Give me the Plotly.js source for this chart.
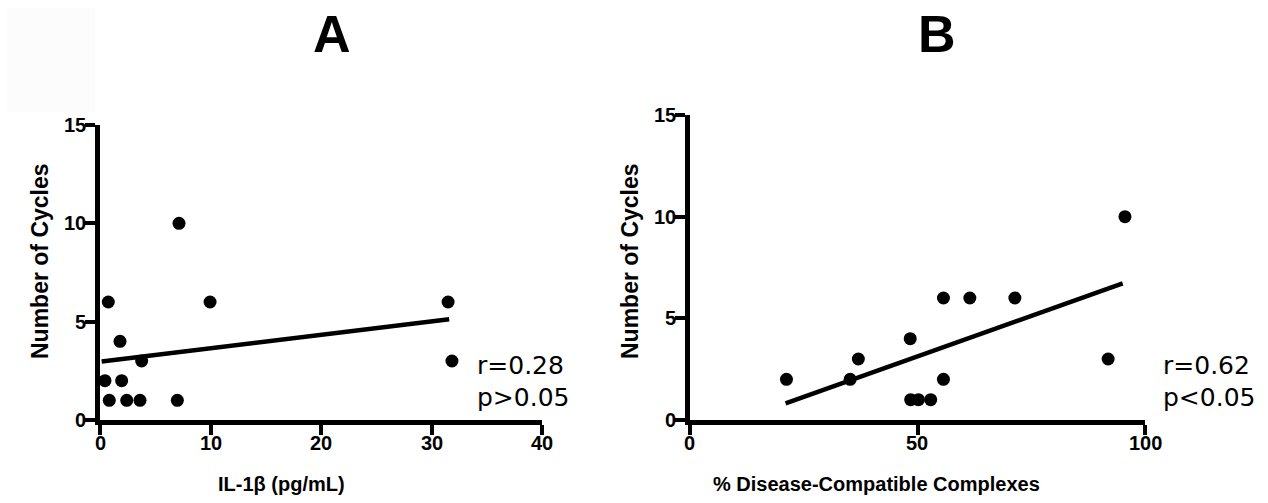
<!DOCTYPE html>
<html>
<head>
<meta charset="utf-8">
<script src="https://cdn.plot.ly/plotly-3.0.1.min.js"></script>
<style>html,body{margin:0;padding:0;background:#fff;}#chart{width:1268px;height:503px;}</style>
</head>
<body>
<div id="chart"></div>
<script>
// Panel A: IL-1beta vs number of cycles
const il1bX = [7.15, 0.75, 9.96, 31.5, 1.81, 3.77, 31.85, 0.45, 1.96, 0.84, 2.42, 3.62, 7.0];
const il1bY = [10, 6, 6, 6, 4, 3, 3, 2, 2, 1, 1, 1, 1];
const fitAX = [0.15, 31.6];
const fitAY = [2.97, 5.12];
// Panel B: % disease-compatible complexes vs number of cycles
const dccX = [21.2, 35.2, 37.0, 48.4, 55.7, 61.5, 71.4, 95.6, 91.9, 55.7, 48.5, 50.2, 52.9];
const dccY = [2, 2, 3, 4, 6, 6, 6, 10, 3, 2, 1, 1, 1];
const fitBX = [21.0, 95.1];
const fitBY = [0.82, 6.72];
const ticksA = [0, 10, 20, 30, 40];
const ticksB = [0, 50, 100];
const ticksY = [0, 5, 10, 15];
const panelTitles = ["A", "B"];
const xTitles = ["IL-1β (pg/mL)", "% Disease-Compatible Complexes"];
const yTitle = "Number of Cycles";
const statsA = ["r=0.28", "p>0.05"];
const statsB = ["r=0.62", "p<0.05"];

const tickFont = {family: "Liberation Sans, Arial", size: 20, color: "#000", weight: 700};
const xTitleFont = {family: "Liberation Sans, Arial", size: 20, color: "#000", weight: 700};
const yTitleFont = {family: "Liberation Sans, Arial", size: 23, color: "#000", weight: 700};
const statFont = {family: "DejaVu Sans, Liberation Sans", size: 25, color: "#000"};

const traces = [
  {x: fitAX, y: fitAY, xaxis: "x", yaxis: "y", mode: "lines", type: "scatter",
   line: {color: "#000", width: 4.5}, cliponaxis: false},
  {x: il1bX, y: il1bY, xaxis: "x", yaxis: "y", mode: "markers", type: "scatter",
   marker: {color: "#000", size: 13}, cliponaxis: false},
  {x: fitBX, y: fitBY, xaxis: "x2", yaxis: "y2", mode: "lines", type: "scatter",
   line: {color: "#000", width: 4.5}, cliponaxis: false},
  {x: dccX, y: dccY, xaxis: "x2", yaxis: "y2", mode: "markers", type: "scatter",
   marker: {color: "#000", size: 13}, cliponaxis: false}
];

function axis(extra) {
  return Object.assign({
    showline: true, linewidth: 5, linecolor: "#000", mirror: false,
    showgrid: false, zeroline: false, ticks: "outside", ticklen: 10, tickwidth: 4,
    tickcolor: "#000", showticklabels: false, fixedrange: true
  }, extra);
}

const W = 1268, H = 503;
const px = v => v / W, py = v => 1 - v / H;

const annotations = [
  {text: panelTitles[0], xref: "paper", yref: "paper", x: px(332), y: py(34), showarrow: false,
   font: {family: "Liberation Sans, Arial", size: 52, color: "#000", weight: 700}, xanchor: "center", yanchor: "middle"},
  {text: panelTitles[1], xref: "paper", yref: "paper", x: px(937), y: py(34), showarrow: false,
   font: {family: "Liberation Sans, Arial", size: 52, color: "#000", weight: 700}, xanchor: "center", yanchor: "middle"},
  {text: xTitles[0], xref: "paper", yref: "paper", x: px(281), y: py(484), showarrow: false,
   font: xTitleFont, xanchor: "center", yanchor: "middle"},
  {text: xTitles[1], xref: "paper", yref: "paper", x: px(876), y: py(484), showarrow: false,
   font: xTitleFont, xanchor: "center", yanchor: "middle"},
  {text: yTitle, xref: "paper", yref: "paper", x: px(40), y: py(261), showarrow: false, textangle: -90,
   font: yTitleFont, xanchor: "center", yanchor: "middle"},
  {text: yTitle, xref: "paper", yref: "paper", x: px(630), y: py(261), showarrow: false, textangle: -90,
   font: yTitleFont, xanchor: "center", yanchor: "middle"},
  {text: statsA[0], xref: "paper", yref: "paper", x: px(475), y: py(365), showarrow: false,
   font: statFont, xanchor: "left", yanchor: "middle"},
  {text: statsA[1], xref: "paper", yref: "paper", x: px(475), y: py(397), showarrow: false,
   font: statFont, xanchor: "left", yanchor: "middle"},
  {text: statsB[0], xref: "paper", yref: "paper", x: px(1161), y: py(365), showarrow: false,
   font: statFont, xanchor: "left", yanchor: "middle"},
  {text: statsB[1], xref: "paper", yref: "paper", x: px(1161), y: py(397), showarrow: false,
   font: statFont, xanchor: "left", yanchor: "middle"}
];
// bold tick labels placed at the axes' own tick values
ticksA.forEach(v => annotations.push({text: "<b>" + v + "</b>", xref: "x", yref: "paper", x: v, y: py(443),
  showarrow: false, font: tickFont, xanchor: "center", yanchor: "middle"}));
ticksB.forEach(v => annotations.push({text: "<b>" + v + "</b>", xref: "x2", yref: "paper", x: v, y: py(443),
  showarrow: false, font: tickFont, xanchor: "center", yanchor: "middle"}));
ticksY.forEach(v => annotations.push({text: "<b>" + v + "</b>", xref: "paper", yref: "y", x: px(88), y: v,
  showarrow: false, font: tickFont, xanchor: "right", yanchor: "middle"}));
ticksY.forEach(v => annotations.push({text: "<b>" + v + "</b>", xref: "paper", yref: "y2", x: px(678), y: v,
  showarrow: false, font: tickFont, xanchor: "right", yanchor: "middle"}));

const layout = {
  width: W, height: H,
  margin: {l: 0, r: 0, t: 0, b: 0},
  paper_bgcolor: "#fff", plot_bgcolor: "rgba(0,0,0,0)",
  showlegend: false,
  xaxis: axis({domain: [px(100), px(542)], range: [0, 40], tickvals: ticksA, anchor: "y"}),
  yaxis: axis({domain: [py(420), py(125)], range: [0, 15], tickvals: ticksY, anchor: "x"}),
  xaxis2: axis({domain: [px(690), px(1145)], range: [0, 100], tickvals: ticksB, anchor: "y2"}),
  yaxis2: axis({domain: [py(420), py(115)], range: [0, 15], tickvals: ticksY, anchor: "x2"}),
  shapes: [
    {type: "rect", xref: "paper", yref: "paper", x0: px(7), x1: px(95), y0: py(112), y1: py(8),
     fillcolor: "#fbfcfb", line: {width: 0}, layer: "below"}
  ],
  annotations: annotations
};

Plotly.newPlot("chart", traces, layout, {displayModeBar: false, staticPlot: true});
</script>
</body>
</html>
